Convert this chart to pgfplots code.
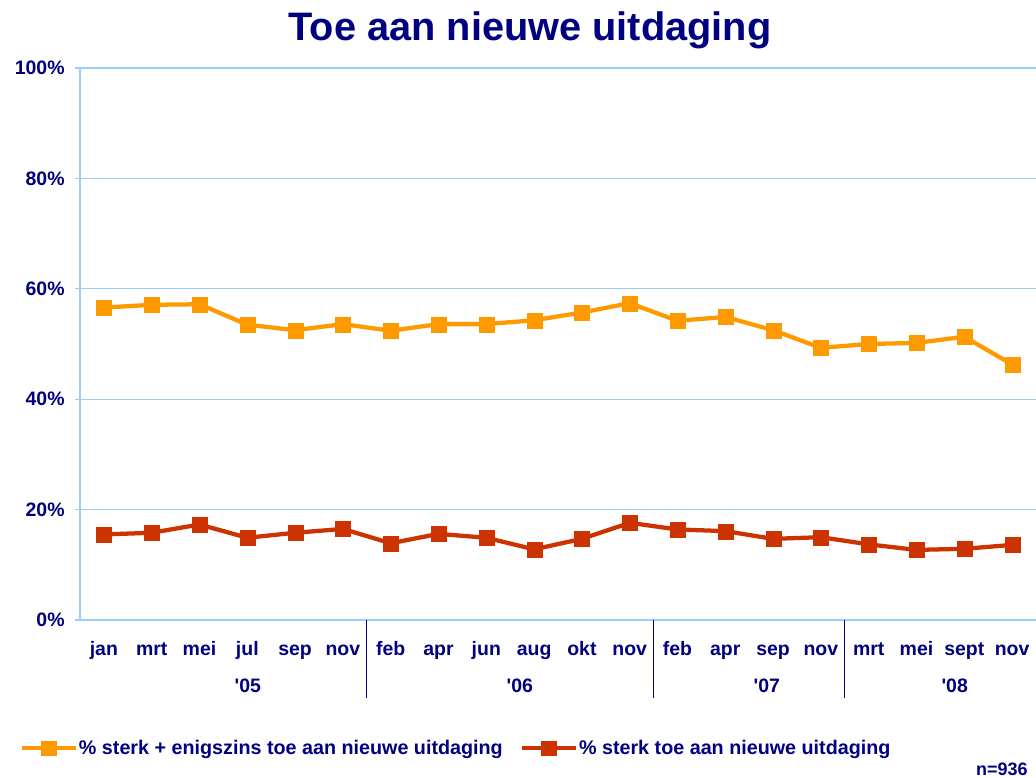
\documentclass[border=0pt]{standalone}
\usepackage{fontspec}
\setmainfont{Liberation Sans}
\usepackage{pgfplots}
\pgfplotsset{compat=1.18}
\definecolor{navy}{HTML}{000080}
\definecolor{oranje}{HTML}{FF9900}
\definecolor{rood}{HTML}{CC3300}
\definecolor{gridblue}{HTML}{99CCFF}
\begin{document}
\begin{tikzpicture}[x=1pt,y=1pt]
\useasboundingbox (0,0) rectangle (777,583.5);
\node[font=\bfseries\fontsize{29.8}{32}\selectfont, text=navy] at (397.5,561) {Toe aan nieuwe uitdaging};
\node[font=\bfseries\fontsize{13.5}{15}\selectfont, text=navy, anchor=base east, inner sep=0pt] at (771,2) {n=936};
\begin{axis}[
  at={(60pt,118.5pt)}, anchor=south west,
  scale only axis, width=717pt, height=414pt,
  xmin=-0.5, xmax=19.5, ymin=0, ymax=100,
  clip=false,
  axis x line*=bottom, axis y line*=left,
  axis line style={draw=gridblue, line width=0.8pt, -},
  ytick={0,20,40,60,80,100},
  yticklabel={\pgfmathprintnumber{\tick}\%},
  ymajorgrids, grid style={draw=gridblue, line width=0.8pt},
  xtick={0,...,19},
  xticklabels={jan,mrt,mei,jul,sep,nov,feb,apr,jun,aug,okt,nov,feb,apr,sep,nov,mrt,mei,sept,nov},
  x tick style={draw=none},
  y tick style={draw=gridblue, line width=0.8pt},
  tick align=outside, major tick length=4pt,
  /pgf/number format/assume math mode=true,
  tick label style={font=\bfseries\fontsize{14.6}{16}\selectfont, text=navy},
  yticklabel style={xshift=-4pt},
  xticklabel style={anchor=base, yshift=-23pt},
  legend style={at={(-0.063,-0.232)}, anchor=west, draw=none, fill=none,
    font=\bfseries\fontsize{14.8}{16}\selectfont, text=navy,
    legend columns=2,
    /tikz/every even column/.append style={column sep=12pt},
    inner sep=0pt, nodes={inner sep=1pt}},
  legend image code/.code={%
    \draw[#1, mark=none] (0pt,0pt) -- (40pt,0pt);
    \draw[#1, line width=0.1pt] plot coordinates {(20pt,0pt)};},
]
\addplot[color=oranje, line width=3.2pt, mark=square*, mark size=5.6pt, mark options={line width=0.1pt}]
 coordinates {(0,56.6) (1,57.1) (2,57.2) (3,53.5) (4,52.5) (5,53.6) (6,52.4) (7,53.6) (8,53.6) (9,54.3) (10,55.7) (11,57.4) (12,54.2) (13,54.9) (14,52.5) (15,49.3) (16,50.0) (17,50.2) (18,51.3) (19,46.3)};
\addlegendentry{\% sterk + enigszins toe aan nieuwe uitdaging}
\addplot[color=rood, line width=3.2pt, mark=square*, mark size=5.6pt, mark options={line width=0.1pt}]
 coordinates {(0,15.5) (1,15.8) (2,17.3) (3,14.9) (4,15.8) (5,16.5) (6,13.9) (7,15.6) (8,14.9) (9,12.8) (10,14.7) (11,17.6) (12,16.4) (13,16.1) (14,14.7) (15,15.0) (16,13.7) (17,12.7) (18,12.9) (19,13.6)};
\addlegendentry{\% sterk toe aan nieuwe uitdaging}
\draw[navy, line width=0.8pt] (axis cs:5.5,0) -- ([yshift=-58.5pt]axis cs:5.5,0);
\draw[navy, line width=0.8pt] (axis cs:11.5,0) -- ([yshift=-58.5pt]axis cs:11.5,0);
\draw[navy, line width=0.8pt] (axis cs:15.5,0) -- ([yshift=-58.5pt]axis cs:15.5,0);
\node[font=\bfseries\fontsize{14.6}{16}\selectfont, text=navy, yshift=-49.5pt] at (axis cs:3.01,0) {\textquotesingle 05};
\node[font=\bfseries\fontsize{14.6}{16}\selectfont, text=navy, yshift=-49.5pt] at (axis cs:8.7,0) {\textquotesingle 06};
\node[font=\bfseries\fontsize{14.6}{16}\selectfont, text=navy, yshift=-49.5pt] at (axis cs:13.87,0) {\textquotesingle 07};
\node[font=\bfseries\fontsize{14.6}{16}\selectfont, text=navy, yshift=-49.5pt] at (axis cs:17.8,0) {\textquotesingle 08};
\end{axis}
\end{tikzpicture}
\end{document}
